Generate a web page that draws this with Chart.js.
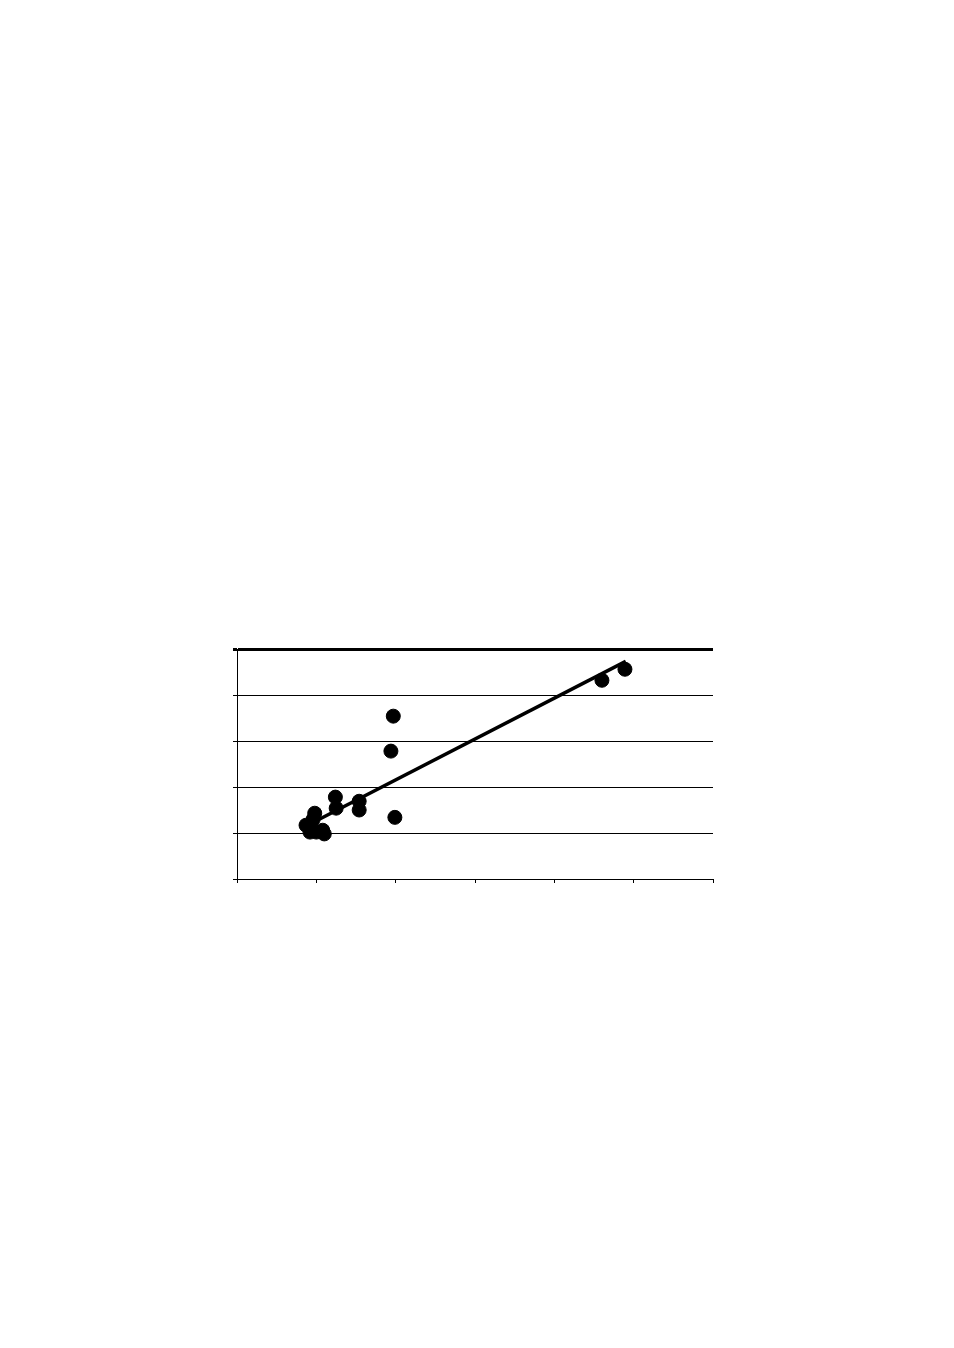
<!DOCTYPE html>
<html>
<head>
<meta charset="utf-8">
<script src="https://cdn.jsdelivr.net/npm/chart.js@4"></script>
<style>
  html, body { margin: 0; padding: 0; background: #fff; }
  #wrap { position: absolute; left: 0; top: 0; width: 954px; height: 1348px; }
</style>
</head>
<body>
<div id="wrap"><canvas id="chart" width="954" height="1348"></canvas></div>
<script>
// scatter points
const pointX = [1.97, 1.94, 1.99, 1.24, 1.25, 1.54, 1.54, 0.98, 0.96, 0.87, 0.92, 1.00, 1.08, 1.10, 4.60, 4.89]
const pointY = [3.54, 2.78, 1.34, 1.78, 1.54, 1.69, 1.50, 1.43, 1.30, 1.17, 1.02, 1.02, 1.06, 0.98, 4.32, 4.56]

// fitted line end points
const trendX = [0.97, 4.90]
const trendY = [1.24, 4.73]

const xTicks = [0, 1, 2, 3, 4, 5, 6]
const yTicks = [0, 1, 2, 3, 4, 5]

const points = pointX.map((x, i) => ({ x: x, y: pointY[i] }))
const trend = trendX.map((x, i) => ({ x: x, y: trendY[i] }))

const ctx = document.getElementById('chart').getContext('2d')
new Chart(ctx, {
  type: 'scatter',
  data: {
    datasets: [
      {
        label: 'trend',
        type: 'line',
        data: trend,
        borderColor: '#000',
        borderWidth: 3.5,
        pointRadius: 0,
        fill: false,
        tension: 0,
        order: 1,
      },
      {
        label: 'points',
        data: points,
        backgroundColor: '#000',
        borderColor: '#000',
        pointRadius: 7,
        pointHoverRadius: 7,
        order: 2,
      },
    ]
  },
  options: {
    responsive: false,
    animation: false,
    layout: {
      padding: { left: 233, right: 241, top: 649, bottom: 465 }
    },
    scales: {
      x: {
        type: 'linear',
        min: xTicks[0],
        max: xTicks[xTicks.length - 1],
        afterBuildTicks: (axis) => { axis.ticks = xTicks.map(v => ({ value: v })) },
        ticks: { display: false },
        grid: {
          drawOnChartArea: false,
          drawTicks: true,
          tickLength: 4,
          color: '#000',
          lineWidth: 1,
        },
        border: { display: true, color: '#000', width: 1 },
      },
      y: {
        type: 'linear',
        min: yTicks[0],
        max: yTicks[yTicks.length - 1],
        afterBuildTicks: (axis) => { axis.ticks = yTicks.map(v => ({ value: v })) },
        ticks: { display: false },
        grid: {
          drawTicks: true,
          tickLength: 4,
          color: '#000',
          lineWidth: (c) => (c.tick && c.tick.value === 5 ? 3 : 1),
        },
        border: { display: true, color: '#000', width: 1 },
      }
    },
    plugins: {
      legend: { display: false },
      tooltip: { enabled: false },
    }
  }
})
</script>
</body>
</html>
